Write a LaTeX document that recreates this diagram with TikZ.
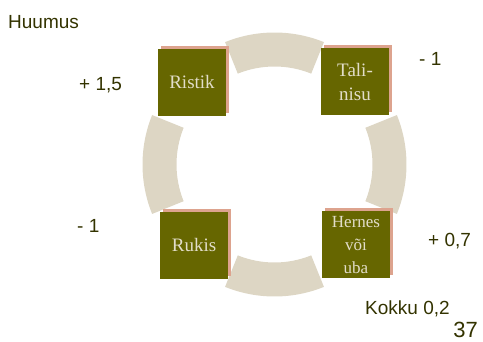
\documentclass[tikz,border=0pt]{standalone}
\usepackage{fontspec}
\setmainfont{Liberation Serif}
\newfontfamily\arialfont{Liberation Sans}
\usetikzlibrary{calc,shadows}
\definecolor{olivebox}{HTML}{666600}
\definecolor{pinkedge}{HTML}{DDA38E}
\definecolor{beigetext}{HTML}{E2DDC9}
\definecolor{ringcol}{HTML}{DDD6C4}
\definecolor{labeltext}{HTML}{333300}

\begin{document}
\begin{tikzpicture}[x=1pt, y=-1pt,
    crop/.style={rectangle, fill=olivebox, text=beigetext, inner sep=0pt,
        minimum width=68pt, minimum height=67pt, align=center,
        font=\fontsize{19}{24}\selectfont,
        drop shadow={shadow xshift=3pt, shadow yshift=3pt, fill=pinkedge, opacity=1}},
    value/.style={anchor=base west, inner sep=0pt, text=labeltext, font=\arialfont\fontsize{19}{22}\selectfont},
    ring/.style={fill=ringcol}
]
\useasboundingbox (0,0) rectangle (483,342);

% Ring
\coordinate (c) at (274.5,164.5);
\foreach \a in {0,90,180,270}
    \fill[ring] ($(c)+(\a-22:132)$) arc[start angle=\a-22, end angle=\a+22, radius=132]
        -- ($(c)+(\a+22:98)$) arc[start angle=\a+22, end angle=\a-22, radius=98] -- cycle;

% Nodes
\node[crop] (ristik) at (192,82.5) {Ristik};
\node[crop] (talinisu) at (355,82) {Tali-\\nisu};
\node[crop] (rukis) at (194,245.5) {Rukis};
\node[crop, font=\fontsize{17}{23}\selectfont] (hernes) at (356,245) {Hernes\\või\\uba};

% Labels
\node[value] (huumus) at (8,29) {Huumus};
\node[value] (plusristik) at (79,91) {+ 1,5};
\node[value] (minustali) at (419,66) {- 1};
\node[value] (minusrukis) at (77,233) {- 1};
\node[value] (plushernes) at (428,247) {+ 0,7};
\node[value] (kokku) at (365,315) {Kokku 0,2};
\node[value, anchor=base east, font=\arialfont\fontsize{22}{24}\selectfont] (page) at (478,338) {37};

\end{tikzpicture}
\end{document}
